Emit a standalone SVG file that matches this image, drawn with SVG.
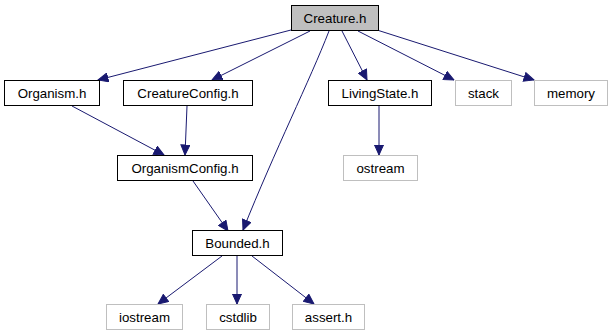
<svg xmlns="http://www.w3.org/2000/svg" width="612" height="336" viewBox="0 0 612 336">
  <style>
    .node rect { fill: #ffffff; stroke: #000000; stroke-width: 1; }
    .node.root rect { fill: #bfbfbf; }
    .node.ext rect { stroke: #bfbfbf; }
    .node text { font-family: "Liberation Sans", Arial, sans-serif; font-size: 13.3px; fill: #000000; text-anchor: middle; }
    .edges path { fill: none; stroke: #191970; stroke-width: 1; }
  </style>
  <defs>
    <marker id="arrow" viewBox="0 0 11 10" refX="10.5" refY="5" markerWidth="11" markerHeight="10" markerUnits="userSpaceOnUse" orient="auto">
      <path d="M0.5,0.5 L10.5,5 L0.5,9.5 Z" fill="#191970" stroke="#191970"/>
    </marker>
  </defs>
  <rect width="612" height="336" fill="#ffffff"/>

  <g class="edges">
    <path d="M291,30 L98,80" marker-end="url(#arrow)"/>
    <path d="M310,31 L212,80" marker-end="url(#arrow)"/>
    <path d="M329,31 C310,80 275,150 243,230" marker-end="url(#arrow)"/>
    <path d="M342,31 L367,80" marker-end="url(#arrow)"/>
    <path d="M358,31 L454,80" marker-end="url(#arrow)"/>
    <path d="M377,30 L534,80" marker-end="url(#arrow)"/>
    <path d="M72,106 L164,155" marker-end="url(#arrow)"/>
    <path d="M187,106 L185,155" marker-end="url(#arrow)"/>
    <path d="M193,181 L228,231" marker-end="url(#arrow)"/>
    <path d="M379,106 L379,155" marker-end="url(#arrow)"/>
    <path d="M222,256 L158,304" marker-end="url(#arrow)"/>
    <path d="M237,256 L237,304" marker-end="url(#arrow)"/>
    <path d="M252,256 L314,304" marker-end="url(#arrow)"/>
  </g>

  <g id="creature_h" class="node root">
    <rect x="291.5" y="5.5" width="87" height="25"/>
    <text x="335" y="23">Creature.h</text>
  </g>
  <g id="organism_h" class="node">
    <rect x="4.5" y="80.5" width="95" height="25"/>
    <text x="52" y="98">Organism.h</text>
  </g>
  <g id="creatureconfig_h" class="node">
    <rect x="123.5" y="80.5" width="129" height="25"/>
    <text x="188" y="98">CreatureConfig.h</text>
  </g>
  <g id="livingstate_h" class="node">
    <rect x="328.5" y="80.5" width="103" height="25"/>
    <text x="380" y="98">LivingState.h</text>
  </g>
  <g id="stack" class="node ext">
    <rect x="455.5" y="80.5" width="56" height="25"/>
    <text x="483.5" y="98">stack</text>
  </g>
  <g id="memory" class="node ext">
    <rect x="534.5" y="80.5" width="73" height="25"/>
    <text x="571" y="98">memory</text>
  </g>
  <g id="organismconfig_h" class="node">
    <rect x="117.5" y="155.5" width="135" height="25"/>
    <text x="185" y="173">OrganismConfig.h</text>
  </g>
  <g id="ostream" class="node ext">
    <rect x="343.5" y="155.5" width="74" height="25"/>
    <text x="380.5" y="173">ostream</text>
  </g>
  <g id="bounded_h" class="node">
    <rect x="192.5" y="230.5" width="90" height="25"/>
    <text x="237.5" y="248">Bounded.h</text>
  </g>
  <g id="iostream" class="node ext">
    <rect x="106.5" y="304.5" width="76" height="25"/>
    <text x="144.5" y="322">iostream</text>
  </g>
  <g id="cstdlib" class="node ext">
    <rect x="206.5" y="304.5" width="63" height="25"/>
    <text x="238" y="322">cstdlib</text>
  </g>
  <g id="assert_h" class="node ext">
    <rect x="292.5" y="304.5" width="72" height="25"/>
    <text x="328.5" y="322">assert.h</text>
  </g>
</svg>
